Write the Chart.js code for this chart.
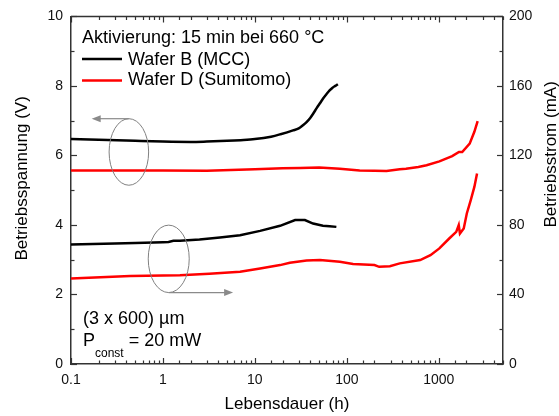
<!DOCTYPE html>
<html><head><meta charset="utf-8">
<script src="https://cdn.jsdelivr.net/npm/chart.js@4.4.0/dist/chart.umd.min.js"></script>
<style>html,body{margin:0;padding:0;background:#fff}</style>
</head><body>
<canvas id="c" width="559" height="416"></canvas>
<script>
// ---- data (hours, volts / milliamps) ----
const hoursVoltB = [0.1,0.2,0.5,1,2,3,5,7,10,15,19,26,30,33,36.5,40,43,47,51,55,60,65,70,75,80];
const voltB      = [6.47,6.45,6.42,6.40,6.39,6.40,6.42,6.44,6.47,6.54,6.61,6.72,6.78,6.86,6.96,7.08,7.20,7.36,7.50,7.63,7.76,7.87,7.95,8.00,8.05];

const hoursVoltD = [0.1,0.3,1,3,10,20,31,50,84,138,200,270,377,440,600,737,1016,1400,1660,1800,2170,2440,2650];
const voltD      = [5.57,5.57,5.57,5.56,5.60,5.63,5.64,5.65,5.62,5.57,5.56,5.55,5.60,5.62,5.67,5.72,5.83,5.98,6.10,6.10,6.34,6.68,6.99];

const hoursCurB = [0.1,0.3,0.5,1,1.15,1.3,1.53,2.5,4.17,6.9,11.4,18.8,27.4,35,43,55,65,77];
const curB      = [68.8,69.3,69.6,70.1,70.2,70.9,70.9,71.6,72.8,74.1,76.6,79.5,82.8,82.8,80.8,79.5,79.3,78.9];

const hoursCurD = [0.1,0.44,1.53,3.2,6.9,11.4,18.8,24,36.5,51,84,117,200,225,294,377,628,812,1016,1300,1550,1650,1700,1870,2020,2230,2440,2610];
const curD      = [49.2,50.6,51.1,51.9,53.1,55.0,56.9,58.2,59.6,59.8,58.8,57.5,56.9,55.9,56.3,57.9,59.8,62.6,66.5,72.2,76.0,79.9,75.1,78.0,86.6,94.3,101.9,109.6];

const xTickLabels  = ['0.1','1','10','100','1000'];
const yTickLabels  = ['0','2','4','6','8','10'];
const y2TickLabels = ['0','40','80','120','160','200'];

const seriesNames = ['Wafer B (MCC)','Wafer D (Sumitomo)'];
const noteTitle = 'Aktivierung: 15 min bei 660 °C';
const noteSize = '(3 x 600) µm';
const xTitle = 'Lebensdauer (h)';
const yTitle = 'Betriebsspannung (V)';
const y2Title = 'Betriebsstrom (mA)';

function pts(xs, ys){ return xs.map((x,i)=>({x:x,y:ys[i]})); }

const FONT = '"Liberation Sans", Arial, sans-serif';
const AXIS = '#333';

const decorPlugin = {
  id:'decor',
  afterDraw(chart){
    const ctx = chart.ctx, a = chart.chartArea;
    const xs = chart.scales.x, ys = chart.scales.y, y2 = chart.scales.y2;
    ctx.save();
    ctx.strokeStyle = AXIS; ctx.lineWidth = 1.5;
    ctx.beginPath(); ctx.moveTo(a.left, a.top); ctx.lineTo(a.right, a.top); ctx.stroke();
    ctx.lineWidth = 1.2;
    const MAJ = 6, MIN = 3.5;
    xs.ticks.forEach(t=>{
      const l = Math.log10(t.value);
      const major = Math.abs(l - Math.round(l)) < 1e-9;
      const len = major ? MAJ : MIN;
      const px = Math.round(xs.getPixelForValue(t.value)) + 0.5;
      ctx.beginPath();
      ctx.moveTo(px, a.bottom); ctx.lineTo(px, a.bottom - len);
      ctx.moveTo(px, a.top); ctx.lineTo(px, a.top + len);
      ctx.stroke();
    });
    ys.ticks.forEach(t=>{
      const len = (t.value % 2 === 0) ? MAJ : MIN;
      const py = Math.round(ys.getPixelForValue(t.value)) + 0.5;
      ctx.beginPath(); ctx.moveTo(a.left, py); ctx.lineTo(a.left + len, py); ctx.stroke();
    });
    y2.ticks.forEach(t=>{
      const len = (t.value % 40 === 0) ? MAJ : MIN;
      const py = Math.round(y2.getPixelForValue(t.value)) + 0.5;
      ctx.beginPath(); ctx.moveTo(a.right, py); ctx.lineTo(a.right - len, py); ctx.stroke();
    });

    ctx.fillStyle = '#000';
    ctx.font = '17px ' + FONT;
    ctx.textAlign = 'center'; ctx.textBaseline = 'middle';
    ctx.fillText(xTitle, (a.left + a.right)/2, a.bottom + 40);
    ctx.save(); ctx.translate(22, a.top + 162); ctx.rotate(-Math.PI/2); ctx.fillText(yTitle, 0, 0); ctx.restore();
    ctx.save(); ctx.translate(551, a.top + 138); ctx.rotate(-Math.PI/2); ctx.fillText(y2Title, 0, 0); ctx.restore();

    ctx.textAlign = 'left'; ctx.textBaseline = 'alphabetic';
    ctx.font = '18px ' + FONT;
    const lx = a.left + 11;
    ctx.fillText(noteTitle, lx, a.top + 27);
    const colors = [chart.data.datasets[0].borderColor, chart.data.datasets[1].borderColor];
    [[42.5,49],[64,69]].forEach((p,i)=>{
      ctx.strokeStyle = colors[i]; ctx.lineWidth = 2.5;
      ctx.beginPath(); ctx.moveTo(lx, a.top + p[0]); ctx.lineTo(lx + 40, a.top + p[0]); ctx.stroke();
      ctx.fillText(seriesNames[i], lx + 46, a.top + p[1]);
    });
    ctx.fillText(noteSize, lx + 1, a.bottom - 40);
    ctx.fillText('P', lx + 1, a.bottom - 18.5);
    const pw = ctx.measureText('P').width;
    ctx.font = '12px ' + FONT;
    ctx.fillText('const', lx + pw + 1, a.bottom - 7);
    const cw = ctx.measureText('const').width;
    ctx.font = '18px ' + FONT;
    ctx.fillText(' = 20 mW', lx + pw + 1 + cw, a.bottom - 18.5);

    const drawArrow = (x0, y0, x1, y1) => {
      ctx.strokeStyle = '#8a8a8a'; ctx.fillStyle = '#8a8a8a'; ctx.lineWidth = 1.2;
      const dir = Math.sign(x1 - x0);
      ctx.beginPath(); ctx.moveTo(x0, y0); ctx.lineTo(x1 - dir*6, y1); ctx.stroke();
      ctx.beginPath(); ctx.moveTo(x1, y1); ctx.lineTo(x1 - dir*9, y1 - 3.5); ctx.lineTo(x1 - dir*9, y1 + 3.5); ctx.closePath(); ctx.fill();
    };
    const ell = (cxv, cyv, rdec, ryv, scale) => {
      const cx = xs.getPixelForValue(cxv), cy = scale.getPixelForValue(cyv);
      const rx = xs.getPixelForValue(cxv * Math.pow(10, rdec)) - cx;
      const ry = scale.getPixelForValue(cyv - ryv) - cy;
      ctx.strokeStyle = '#808080'; ctx.lineWidth = 1;
      ctx.beginPath(); ctx.ellipse(cx, cy, rx, ry, 0, 0, Math.PI*2); ctx.stroke();
      return {cx, cy, rx, ry};
    };
    const e1 = ell(0.426, 6.10, 0.215, 0.957, ys);
    drawArrow(e1.cx, e1.cy - e1.ry, xs.getPixelForValue(0.168), e1.cy - e1.ry);
    const e2 = ell(1.156, 60.5, 0.223, 19.4, y2);
    drawArrow(e2.cx, e2.cy + e2.ry, xs.getPixelForValue(5.8), e2.cy + e2.ry);
    ctx.restore();
  }
};

const tickFont = {family: FONT, size: 14};
new Chart(document.getElementById('c'), {
  type:'line',
  data:{datasets:[
    {label:seriesNames[0]+' U', data:pts(hoursVoltB, voltB), borderColor:'#000000', yAxisID:'y', cubicInterpolationMode:'monotone'},
    {label:seriesNames[1]+' U', data:pts(hoursVoltD, voltD), borderColor:'#ff0000', yAxisID:'y'},
    {label:seriesNames[0]+' I', data:pts(hoursCurB, curB), borderColor:'#000000', yAxisID:'y2'},
    {label:seriesNames[1]+' I', data:pts(hoursCurD, curD), borderColor:'#ff0000', yAxisID:'y2'}
  ]},
  options:{
    responsive:false, animation:false,
    layout:{padding:{top:16, left:0, right:0, bottom:0}},
    elements:{line:{borderWidth:2.5, tension:0, fill:false}, point:{radius:0}},
    plugins:{legend:{display:false}, tooltip:{enabled:false}},
    scales:{
      x:{type:'logarithmic', min:0.1, max:5000,
        grid:{display:true, drawOnChartArea:false, drawTicks:false},
        border:{display:true, color:AXIS, width:1.5},
        ticks:{autoSkip:false, maxRotation:0, padding:8, color:'#111', font:tickFont,
          callback:(v)=>{ const l=Math.log10(v); if(Math.abs(l-Math.round(l))<1e-9){ const i=Math.round(l)+1; return xTickLabels[i] ?? ''; } return ''; }},
        afterFit:(s)=>{ s.height = 52; }
      },
      y:{type:'linear', position:'left', min:0, max:10,
        grid:{display:true, drawOnChartArea:false, drawTicks:false},
        border:{display:true, color:AXIS, width:1.5},
        ticks:{stepSize:1, padding:8, color:'#111', font:tickFont,
          callback:(v)=> (v%2===0) ? yTickLabels[v/2] : ''},
        afterFit:(s)=>{ s.width = 71; }
      },
      y2:{type:'linear', position:'right', min:0, max:200,
        grid:{display:true, drawOnChartArea:false, drawTicks:false},
        border:{display:true, color:AXIS, width:1.5},
        ticks:{stepSize:20, padding:6, color:'#111', font:tickFont,
          callback:(v)=> (v%40===0) ? y2TickLabels[v/40] : ''},
        afterFit:(s)=>{ s.width = 56; }
      }
    }
  },
  plugins:[decorPlugin]
});
</script>
</body></html>
